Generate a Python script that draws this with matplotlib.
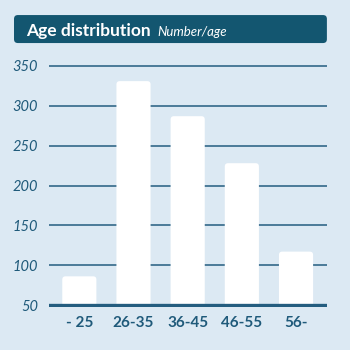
import matplotlib
matplotlib.use("Agg")
import matplotlib.pyplot as plt
from matplotlib.patches import FancyBboxPatch

# Age groups and head count per group
age_groups = ["- 25", "26-35", "36-45", "46-55", "56-"]
counts = [86, 331, 287, 228, 117]
y_ticks = [50, 100, 150, 200, 250, 300, 350]

BG = "#dce9f3"
DARK = "#135670"
TEXT = "#1f5a7a"
GRID = "#245d7f"

plt.rcParams["font.family"] = ["Lato", "DejaVu Sans"]

fig = plt.figure(figsize=(3.5, 3.5), dpi=100, facecolor=BG)
ax = fig.add_axes([0.14, 0.124, 0.794, 0.692])
ax.set_facecolor(BG)

ax.set_xlim(-0.56, 4.57)
ax.set_ylim(48, 352)

# horizontal rules behind the bars, heavier one at the base
for t in y_ticks:
    ax.axhline(t, color=GRID, lw=2.4 if t == y_ticks[0] else 1.1,
               zorder=3 if t == y_ticks[0] else 1)

bar_w = 0.63
for i, c in enumerate(counts):
    patch = FancyBboxPatch(
        (i - bar_w / 2, 30), bar_w, c - 30,
        boxstyle="round,pad=0,rounding_size=0.06",
        mutation_aspect=68,
        facecolor="white", edgecolor="none", zorder=2,
    )
    ax.add_patch(patch)

ax.set_xticks(range(len(age_groups)))
ax.set_xticklabels(age_groups, fontsize=11, fontweight="bold", color=TEXT)
ax.set_yticks(y_ticks)
ax.set_yticklabels([str(t) for t in y_ticks], fontsize=10.5, fontstyle="italic",
                   color=TEXT)
ax.tick_params(axis="x", length=0, pad=7)
ax.tick_params(axis="y", length=0, pad=8)
for s in ax.spines.values():
    s.set_visible(False)

# title banner
banner = FancyBboxPatch(
    (0.04, 0.877), 0.894, 0.08,
    boxstyle="round,pad=0,rounding_size=0.011",
    transform=fig.transFigure, facecolor=DARK, edgecolor="none",
)
fig.patches.append(banner)
title = fig.text(0.074, 0.912, "Age distribution", fontsize=12.5,
                 fontweight="bold", color="white", va="center")
fig.canvas.draw()
bb = title.get_window_extent()
fig.text((bb.x1 + 7) / fig.bbox.width, 0.910, "Number/age", fontsize=9.5,
         fontstyle="italic", color="white", va="center")

fig.savefig("out.png", dpi=100, facecolor=BG)
